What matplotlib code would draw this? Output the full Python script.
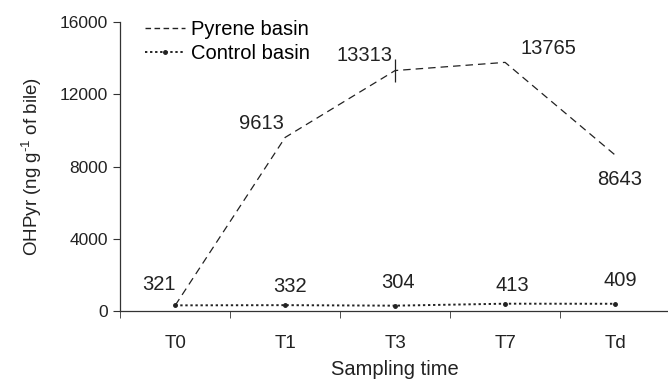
import matplotlib
matplotlib.use("Agg")
import matplotlib.pyplot as plt
from matplotlib.lines import Line2D

categories = ["T0", "T1", "T3", "T7", "Td"]
pyrene = [321, 9613, 13313, 13765, 8643]
control = [321, 332, 304, 413, 409]
pyrene_err = [0, 0, 640, 0, 0]
yticks = [0, 4000, 8000, 12000, 16000]

plt.rcParams['font.family'] = ['Liberation Sans', 'DejaVu Sans']
plt.rcParams['mathtext.fontset'] = 'custom'
plt.rcParams['mathtext.rm'] = 'Liberation Sans'

fig = plt.figure(figsize=(6.68, 3.79), dpi=100)
ax = fig.add_axes([0.18, 0.179, 0.823, 0.763])

x = list(range(len(categories)))
col = '#222222'
ax.plot(x, pyrene, color=col, lw=0.9, ls=(0, (6, 4)))
ax.errorbar(x, pyrene, yerr=pyrene_err, fmt='none', ecolor=col, elinewidth=0.9, capsize=0)
ax.plot(x, control, color=col, lw=1.4, ls=(0, (1.2, 1.4)), marker='o', markersize=2.5)

# data labels: (dx, dy, ha, va) in points
fs_lab = 14.5
lab_p = {1: (-1, 3, 'right', 'bottom'), 2: (-2, 4, 'right', 'bottom'),
         3: (11, 3.5, 'left', 'bottom'), 4: (3, -11, 'center', 'top')}
for i, v in enumerate(pyrene):
    if i in lab_p:
        dx, dy, ha, va = lab_p[i]
        ax.annotate(str(v), (x[i], v), xytext=(dx, dy), textcoords='offset points',
                    ha=ha, va=va, fontsize=fs_lab, color=col)
lab_c = {0: (0, 8, 'right'), 1: (3.5, 6.5, 'center'), 2: (2, 9.5, 'center'),
         3: (5, 6.5, 'center'), 4: (3.5, 10, 'center')}
for i, v in enumerate(control):
    dx, dy, ha = lab_c[i]
    ax.annotate(str(v), (x[i], v), xytext=(dx, dy), textcoords='offset points',
                ha=ha, va='bottom', fontsize=fs_lab, color=col)

ax.set_xlim(-0.5, len(categories) - 0.5)
ax.set_ylim(0, 16000)
ax.set_yticks(yticks)
ax.set_yticklabels([str(t) for t in yticks], fontsize=12.5, color=col)
ax.set_xticks(x)
ax.set_xticklabels(categories, fontsize=13.5, color=col)
ax.tick_params(axis='x', length=0, pad=17)
ax.set_xticks([i + 0.5 for i in range(-1, len(categories))], minor=True)
ax.tick_params(axis='x', which='minor', length=5, direction='out', color='#333333')
ax.tick_params(axis='y', length=5, direction='out', color='#333333', pad=4)

for s in ['top', 'right']:
    ax.spines[s].set_visible(False)
for s in ['left', 'bottom']:
    ax.spines[s].set_color('#333333')
    ax.spines[s].set_linewidth(0.9)

ax.set_xlabel('Sampling time', fontsize=14.5, labelpad=6, color=col)
ax.set_ylabel('OHPyr (ng g$^{\\mathrm{\u2010}1}$ of bile)', fontsize=13.5, color=col, labelpad=11)

handles = [Line2D([], [], color=col, lw=1.0, ls=(0, (4, 2.5))),
           Line2D([], [], color=col, lw=1.4, ls=(0, (1.2, 1.4)), marker='o', markersize=2.5)]
ax.legend(handles, ['Pyrene basin', 'Control basin'], loc='upper left',
          bbox_to_anchor=(0.045, 1.008), frameon=False, fontsize=14.5, numpoints=1,
          handlelength=2.0, handletextpad=0.3, labelspacing=0.28, borderaxespad=0,
          borderpad=0)

fig.savefig('out.png', dpi=100)
